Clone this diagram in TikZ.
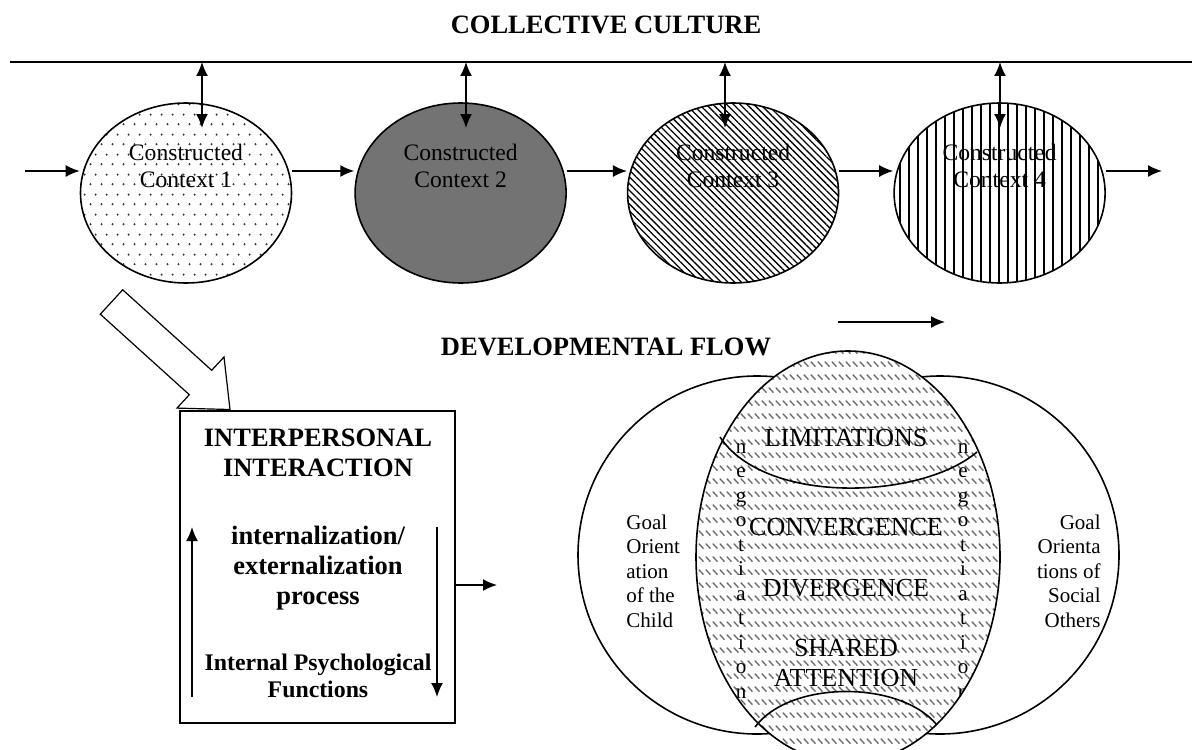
\documentclass[tikz,border=0pt]{standalone}
\usepackage{fontspec}
\setmainfont{Liberation Serif}
\usepackage{tikz}
\usetikzlibrary{positioning}
\usetikzlibrary{arrows.meta,calc,patterns,patterns.meta,shapes.geometric}
\tikzset{line/.style={draw, thick, -{Latex[length=7pt,width=6pt]}}}
\tikzset{dline/.style={draw, thick, {Latex[length=7pt,width=6pt]}-{Latex[length=7pt,width=6pt]}}}

% fills of the contexts and of the shared zone
\pgfdeclarepatternformonly{ctxdots}{\pgfpointorigin}{\pgfpoint{5.5pt}{10pt}}{\pgfpoint{5.5pt}{10pt}}{%
  \pgfpathcircle{\pgfpoint{1.4pt}{2.5pt}}{0.6pt}
  \pgfpathcircle{\pgfpoint{4.15pt}{7.5pt}}{0.6pt}
  \pgfusepath{fill}}
\pgfdeclarepatternformonly{negdash}{\pgfpointorigin}{\pgfpoint{3.6pt}{6.3pt}}{\pgfpoint{3.6pt}{6.3pt}}{%
  \pgfsetlinewidth{0.7pt}\pgfsetroundcap
  \pgfpathmoveto{\pgfpoint{0.6pt}{5.2pt}}
  \pgfpathlineto{\pgfpoint{2.9pt}{2.9pt}}
  \pgfusepath{stroke}}

\begin{document}
\begin{tikzpicture}[x=0.5pt,y=-0.5pt]
\tikzstyle{heading} = [font=\bfseries\fontsize{13.25}{15}\selectfont]
\tikzstyle{ctx} = [ellipse, draw, thick, minimum width=105.5pt, minimum height=90pt, inner sep=0pt]
\tikzstyle{ctxtext} = [align=center, inner sep=0pt, font=\fontsize{11.8}{13.5}\selectfont]
\tikzstyle{boxhead} = [align=center, inner sep=0pt, font=\bfseries\fontsize{13.25}{15}\selectfont]
\tikzstyle{boxsub} = [align=center, inner sep=0pt, font=\bfseries\fontsize{11.9}{13.5}\selectfont]
\tikzstyle{goal} = [circle, draw, thick, minimum size=179pt, inner sep=0pt]
\tikzstyle{word} = [inner sep=0pt, font=\fontsize{13}{15}\selectfont]
\tikzstyle{small} = [inner sep=0pt, font=\fontsize{10.5}{12.25}\selectfont]
\useasboundingbox (0,0) rectangle (1192,749);

% collective culture
    \node [heading] (culture) at (606,25) {COLLECTIVE CULTURE};
    \coordinate (cultL) at (10,62);
    \coordinate (cultR) at (1192,62);
    \draw [thick] (cultL) -- (cultR);

% constructed contexts
    \node [ctx, pattern=ctxdots, pattern color=black!80] (c1) at (186,193) {};
    \node [ctx, fill=black!55, right=31pt of c1] (c2) {};
    \node [ctx, pattern={Lines[angle=-45, distance=2.4pt, line width=0.65pt]}, right=30pt of c2] (c3) {};
    \node [ctx, pattern={Lines[angle=90, distance=4.5pt, line width=0.9pt]}, right=27pt of c3] (c4) {};
    \foreach \i in {1,...,4}
        \node [ctxtext] (t\i) at ([yshift=13.5pt]c\i.center) {Constructed\\Context \i};

% arrows
    \coordinate (row) at (0,171);
    \coordinate (start) at (25,171);
    \coordinate (end) at (1162,171);
    \path [line] (start) -- (c1.west|-row);
    \path [line] (c1.east|-row) -- (c2.west|-row);
    \path [line] (c2.east|-row) -- (c3.west|-row);
    \path [line] (c3.east|-row) -- (c4.west|-row);
    \path [line] (c4.east|-row) -- (end);
    \foreach \x in {202,466,725,1000}
        \path [dline] (\x,62) -- (\x,128);

% interaction box
    \draw [semithick, fill=white] (122.7,289.8) -- (211.7,370.3) -- (224,357) -- (230,409.5)
        -- (177,408.1) -- (189.3,394.7) -- (100.3,314.2) -- cycle;
    \node [draw, thick, fill=white, minimum width=137.5pt, minimum height=156pt, inner sep=0pt] (interaction) at (317.5,567) {};
    \node [boxhead] (ipi) at (318,453) {INTERPERSONAL\\INTERACTION};
    \node [boxhead] (proc) at (318,568) {internalization/\\externalization\\process};
    \node [boxsub] (ipf) at (318,676) {Internal Psychological\\Functions};
    \path [line] (192,697) -- (192,527);
    \path [line] (437,527) -- (437,697);
    \coordinate (out) at (497,585);
    \path [line] (interaction.east|-out) -- (out);

% developmental flow
    \node [heading] (devflow) at (606,347) {DEVELOPMENTAL FLOW};
    \coordinate (flowtail) at (838,322);
    \coordinate (flowhead) at (945,322);
    \path [line] (flowtail) -- (flowhead);

% goal orientations and the shared zone
    \node [goal] (child) at (757,555) {};
    \node [goal] (others) at (940,555) {};
    \node [ellipse, draw, thick, preaction={fill=white}, pattern=negdash, pattern color=black!60, minimum width=152pt, minimum height=206pt, inner sep=0pt] (meet) at (848,557) {};
    \draw [thick] (720,437) .. controls (765,505) and (920,500) .. (977,452);
    \draw [thick] (755,727) .. controls (790,680) and (900,680) .. (937,725);

    \node [word] (lim) at (846,438) {LIMITATIONS};
    \node [word] (conv) at (846,527) {CONVERGENCE};
    \node [word] (div) at (846,588) {DIVERGENCE};
    \node [word, align=center] (att) at (846,663) {SHARED\\ATTENTION};

    \node [small, align=left, anchor=west] (childtxt) at (626,571) {Goal\\Orient\\ation\\of the\\Child};
    \node [small, align=right, anchor=east] (otherstxt) at (1101,571) {Goal\\Orienta\\tions of\\Social\\Others};
    \node [small, align=center] (negL) at (741,571) {n\\e\\g\\o\\t\\i\\a\\t\\i\\o\\n};
    \begin{scope}
        \clip (848,557) ellipse [x radius=152, y radius=206];
        \node [small, align=center] (negR) at (963,571) {n\\e\\g\\o\\t\\i\\a\\t\\i\\o\\n};
    \end{scope}
\end{tikzpicture}
\end{document}
